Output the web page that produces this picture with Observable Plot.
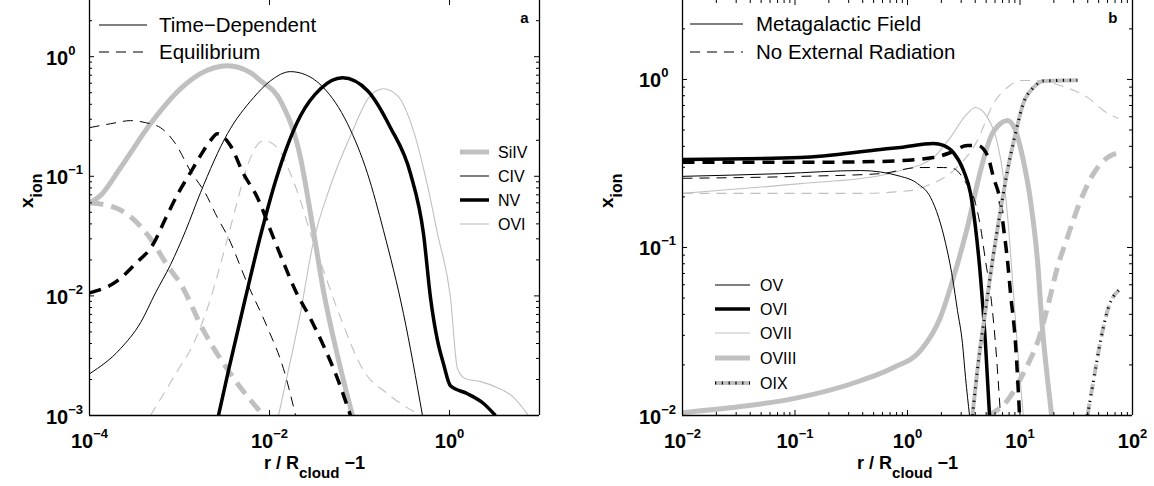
<!DOCTYPE html>
<html>
<head>
<meta charset="utf-8">
<script src="https://cdn.jsdelivr.net/npm/d3@7"></script>
<script src="https://cdn.jsdelivr.net/npm/@observablehq/plot@0.6"></script>
<style>
  body { margin: 0; background: #fff; }
  #row { display: flex; width: 1154px; height: 486px; }
  #row svg { flex: none; }
  text { white-space: pre; }
</style>
</head>
<body>
<div id="row"></div>
<script>
// ---------- Panel a: time-dependent vs. equilibrium ionisation fractions ----------
const siivTdR = [1e-4, 1.32e-4, 2.21e-4, 4.76e-4, 1.03e-3, 1.71e-3, 3.41e-3, 6.15e-3, 7.94e-3, 1.32e-2, 2.21e-2, 3.01e-2, 3.98e-2, 5.70e-2, 8.36e-2];
const siivTdX = [0.060, 0.0689, 0.118, 0.275, 0.540, 0.721, 0.841, 0.735, 0.630, 0.429, 0.143, 0.0386, 0.0110, 0.00316, 0.001];
const siivEqR = [1e-4, 1.80e-4, 2.86e-4, 4.76e-4, 7.36e-4, 1.03e-3, 1.85e-3, 3.69e-3, 8.57e-3];
const siivEqX = [0.060, 0.0557, 0.0459, 0.0301, 0.0179, 0.0126, 0.00512, 0.00223, 0.001];

const civTdR = [1e-4, 2.21e-4, 3.69e-4, 5.41e-4, 7.94e-4, 1.17e-3, 1.71e-3, 3.41e-3, 6.64e-3, 1.03e-2, 1.71e-2, 2.51e-2, 3.98e-2, 7.36e-2, 0.123, 0.185, 0.308, 0.501];
const civTdX = [2.23e-3, 3.62e-3, 5.97e-3, 1.06e-2, 1.82e-2, 3.51e-2, 7.29e-2, 0.227, 0.454, 0.630, 0.750, 0.707, 0.551, 0.275, 0.105, 0.0351, 0.0071, 0.001];
const civEqR = [1e-4, 1.71e-4, 2.86e-4, 4.19e-4, 6.15e-4, 9.04e-4, 1.32e-3, 1.95e-3, 2.64e-3, 3.41e-3, 5.70e-3, 9.51e-3, 1.43e-2, 1.95e-2];
const civEqX = [0.255, 0.275, 0.292, 0.281, 0.255, 0.187, 0.111, 0.0716, 0.0451, 0.0318, 0.0126, 0.00542, 0.00246, 0.001];

const nvTdR = [2.71e-3, 3.50e-3, 5.41e-3, 7.94e-3, 1.17e-2, 1.58e-2, 2.21e-2, 3.69e-2, 6.47e-2, 0.123, 0.221, 0.369, 0.514, 0.615, 0.736, 0.857, 1.026, 1.585, 2.39, 3.24];
const nvTdX = [0.001, 2.37e-3, 9.66e-3, 3.18e-2, 9.18e-2, 0.180, 0.321, 0.540, 0.667, 0.520, 0.255, 0.105, 0.0331, 0.00966, 0.00422, 0.00271, 0.00177, 0.00152, 0.00126, 0.001];
const nvEqR = [1e-4, 2.05e-4, 3.24e-4, 5.14e-4, 6.98e-4, 9.75e-4, 1.32e-3, 1.71e-3, 2.21e-3, 2.64e-3, 3.69e-3, 5.14e-3, 7.36e-3, 1.03e-2, 1.43e-2, 1.95e-2, 2.86e-2, 3.98e-2, 5.70e-2, 7.94e-2];
const nvEqX = [0.0106, 0.0134, 0.0186, 0.0273, 0.0442, 0.0729, 0.107, 0.149, 0.199, 0.227, 0.180, 0.105, 0.0662, 0.0351, 0.0190, 0.0110, 0.00644, 0.00384, 0.00203, 0.001];

const oviTdR = [1.26e-2, 1.71e-2, 2.21e-2, 3.01e-2, 4.76e-2, 7.94e-2, 0.132, 0.185, 0.264, 0.398, 0.570, 0.736, 1.026, 1.227, 1.51, 2.21, 3.41, 5.14, 7.55];
const oviTdX = [0.001, 2.87e-3, 7.24e-3, 2.63e-2, 8.34e-2, 0.218, 0.472, 0.540, 0.472, 0.240, 0.0834, 0.0331, 0.00966, 0.00246, 0.00203, 0.00192, 0.00171, 0.00142, 0.001];
const oviEqR = [4.76e-4, 9.51e-4, 1.43e-3, 2.05e-3, 3.41e-3, 4.41e-3, 5.70e-3, 8.57e-3, 1.23e-2, 1.71e-2, 2.21e-2, 2.86e-2, 3.98e-2, 6.15e-2, 0.111, 0.205, 0.476];
const oviEqX = [0.001, 2.37e-3, 3.98e-3, 7.96e-3, 3.01e-2, 6.25e-2, 0.123, 0.199, 0.173, 0.105, 0.0625, 0.0331, 0.0163, 0.00658, 0.00237, 0.00152, 0.001];

// ---------- Panel b: oxygen ions with and without the metagalactic field ----------
const ovMgR = [0.01, 0.0743, 0.382, 0.867, 1.227, 1.60, 1.89, 2.18, 2.51, 2.78, 3.08, 3.28, 3.56];
const ovMgX = [0.265, 0.275, 0.287, 0.265, 0.240, 0.199, 0.151, 0.106, 0.0662, 0.0422, 0.0269, 0.0168, 0.01];
const ovNoR = [0.01, 0.112, 0.575, 1.25, 2.09, 2.56, 3.28, 4.02, 4.46, 4.93, 5.47, 6.05, 6.71];
const ovNoX = [0.258, 0.265, 0.275, 0.299, 0.299, 0.295, 0.244, 0.183, 0.132, 0.0837, 0.0532, 0.0269, 0.01];

const oviMgR = [0.01, 0.112, 0.575, 0.867, 1.70, 2.09, 2.56, 3.15, 3.63, 4.02, 4.46, 4.93, 5.36];
const oviMgX = [0.334, 0.343, 0.383, 0.394, 0.416, 0.405, 0.367, 0.287, 0.210, 0.132, 0.0662, 0.0269, 0.01];
const oviNoR = [0.01, 0.112, 0.575, 1.70, 2.41, 3.41, 4.19, 5.14, 5.81, 6.71, 7.13, 7.74, 8.24, 9.12, 9.91];
const oviNoX = [0.321, 0.321, 0.325, 0.343, 0.367, 0.405, 0.405, 0.353, 0.261, 0.183, 0.132, 0.0837, 0.0532, 0.0269, 0.01];

const oviiMgR = [0.01, 0.112, 0.575, 0.867, 1.70, 2.41, 3.41, 4.02, 5.14, 6.31, 7.13, 7.91, 8.75, 9.70, 10.7];
const oviiMgX = [0.210, 0.240, 0.268, 0.287, 0.343, 0.452, 0.628, 0.681, 0.594, 0.416, 0.261, 0.132, 0.0532, 0.0212, 0.01];
const oviiNoR = [0.01, 0.382, 1.06, 1.51, 2.56, 4.19, 5.81, 7.74, 10.1, 13.2, 22.9, 39.8, 60.0, 75.2];
const oviiNoX = [0.210, 0.210, 0.218, 0.234, 0.287, 0.434, 0.720, 0.896, 0.986, 0.986, 0.921, 0.782, 0.628, 0.586];

const oviiiMgR = [0.01, 0.0328, 0.097, 0.382, 0.752, 1.31, 1.96, 2.56, 3.41, 4.46, 5.47, 6.71, 7.74, 9.12, 10.7, 12.4, 14.3, 15.8, 17.5, 19.1];
const oviiiMgX = [0.0104, 0.0113, 0.0126, 0.0161, 0.0193, 0.0244, 0.0383, 0.0662, 0.132, 0.287, 0.452, 0.547, 0.570, 0.497, 0.330, 0.190, 0.0837, 0.0334, 0.0168, 0.01];
const oviiiNoR = [5.14, 7.74, 10.7, 15.2, 17.9, 21.5, 26.4, 34.5, 45.0, 60.0, 75.2];
const oviiiNoX = [0.01, 0.0123, 0.0178, 0.0308, 0.0464, 0.0760, 0.115, 0.190, 0.275, 0.343, 0.367];

const oixMgR = [3.78, 4.28, 4.93, 5.70, 6.71, 7.74, 9.12, 10.7, 13.2, 16.2, 32.4];
const oixMgX = [0.01, 0.0212, 0.0422, 0.0837, 0.166, 0.287, 0.477, 0.720, 0.896, 0.98, 0.99];
const oixNoR = [39.8, 45.0, 52.0, 61.2, 75.2];
const oixNoX = [0.01, 0.0161, 0.0279, 0.0440, 0.0555];

// ---------- Tick values and labels ----------
const xMajorA = [1e-4, 1e-2, 1];
const xLabelsA = ["10^{−4}", "10^{−2}", "10^{0}"];
const yMajorA = [1e-3, 1e-2, 1e-1, 1];
const yLabelsA = ["10^{−3}", "10^{−2}", "10^{−1}", "10^{0}"];
const xMajorB = [1e-2, 1e-1, 1, 10, 100];
const xLabelsB = ["10^{−2}", "10^{−1}", "10^{0}", "10^{1}", "10^{2}"];
const yMajorB = [1e-2, 1e-1, 1];
const yLabelsB = ["10^{−2}", "10^{−1}", "10^{0}"];

const xTitle = "r / R_{cloud} −1";
const yTitle = "x_{ion}";

// ---------- Styling ----------
const GREY = "#c0c0c0";
const FONT = "'Liberation Sans', Arial, Helvetica, sans-serif";
const FRAME_W = 450, FRAME_H = 415;
const dashFor = w => (w >= 4.5 ? "14,8" : w >= 3 ? "12,8" : "10,7");

const ionsA = [
  {name: "SiIV", stroke: GREY, width: 5, td: [siivTdR, siivTdX], eq: [siivEqR, siivEqX]},
  {name: "CIV", stroke: "#000", width: 1, td: [civTdR, civTdX], eq: [civEqR, civEqX]},
  {name: "NV", stroke: "#000", width: 3.5, td: [nvTdR, nvTdX], eq: [nvEqR, nvEqX]},
  {name: "OVI", stroke: GREY, width: 1.1, td: [oviTdR, oviTdX], eq: [oviEqR, oviEqX]}
];
const ionsB = [
  {name: "OV", stroke: "#000", width: 1, mg: [ovMgR, ovMgX], no: [ovNoR, ovNoX]},
  {name: "OVI", stroke: "#000", width: 3.5, mg: [oviMgR, oviMgX], no: [oviNoR, oviNoX]},
  {name: "OVII", stroke: GREY, width: 1.1, mg: [oviiMgR, oviiMgX], no: [oviiNoR, oviiNoX]},
  {name: "OVIII", stroke: GREY, width: 5, mg: [oviiiMgR, oviiiMgX], no: [oviiiNoR, oviiiNoX]},
  {name: "OIX", stroke: GREY, width: 4, ticked: true, mg: [oixMgR, oixMgX], no: [oixNoR, oixNoX]}
];
const drawOrderA = ["SiIV", "OVI", "CIV", "NV"];
const drawOrderB = ["OVIII", "OVII", "OV", "OVI", "OIX"];

function rows([r, v]) { return r.map((d, i) => ({r: d, v: v[i]})); }

function curve(pair, ion, dashed) {
  const base = {x: "r", y: "v", curve: "monotone-x", clip: true, strokeLinejoin: "round", strokeLinecap: "butt"};
  const data = rows(pair);
  const marks = [Plot.line(data, {...base, stroke: ion.stroke, strokeWidth: ion.width,
    strokeDasharray: dashed ? dashFor(ion.width) : null})];
  if (ion.ticked) marks.push(Plot.line(data, {...base, stroke: "#000", strokeWidth: 3, strokeDasharray: "1.2,5.6"}));
  return marks;
}

function minorTicks([lo, hi]) {
  const t = [];
  for (let e = Math.floor(Math.log10(lo)); e < Math.ceil(Math.log10(hi)); ++e)
    for (let m = 2; m <= 9; ++m) { const v = m * 10 ** e; if (v > lo && v < hi) t.push(v); }
  return t;
}

function boxAxes(o) {
  const H = FRAME_H, W = FRAME_W, tk = {stroke: "#000", strokeWidth: 1};
  const xMinor = o.xMinor ? minorTicks(o.xDomain) : [];
  const yMinor = minorTicks(o.yDomain);
  const bold = {fontWeight: "bold", fill: "#000"};
  return [
    Plot.tickX(o.xMajor, {x: d => d, insetTop: H - 5, ...tk}),
    Plot.tickX(o.xMajor, {x: d => d, insetBottom: H - 5, ...tk}),
    Plot.tickX(xMinor, {x: d => d, insetTop: H - 3, ...tk}),
    Plot.tickX(xMinor, {x: d => d, insetBottom: H - 3, ...tk}),
    Plot.tickY(o.yMajor, {y: d => d, insetRight: W - 5, ...tk}),
    Plot.tickY(o.yMajor, {y: d => d, insetLeft: W - 5, ...tk}),
    Plot.tickY(yMinor, {y: d => d, insetRight: W - 3, ...tk}),
    Plot.tickY(yMinor, {y: d => d, insetLeft: W - 3, ...tk}),
    Plot.ruleX(o.xDomain, {x: d => d, stroke: "#000", strokeWidth: 1.3}),
    Plot.ruleY([o.yDomain[0]], {y: d => d, stroke: "#000", strokeWidth: 1.3}),
    Plot.text(o.xMajor, {x: d => d, text: (d, i) => o.xLabels[i], frameAnchor: "bottom", dy: 32,
      lineAnchor: "bottom", fontSize: 20, ...bold}),
    Plot.text(o.yMajor, {y: d => d, text: (d, i) => o.yLabels[i], frameAnchor: "left", dx: -43.5, dy: 8,
      textAnchor: "start", lineAnchor: "bottom", fontSize: 20, ...bold}),
    Plot.text([xTitle], {frameAnchor: "bottom", dy: 53, lineAnchor: "bottom", fontSize: 18, ...bold}),
    Plot.text([yTitle], {frameAnchor: "left", dx: o.yTitleDx, rotate: -90, lineAnchor: "bottom", fontSize: 19, ...bold}),
    Plot.text([o.letter], {frameAnchor: "top-right", dx: o.letterDx, dy: 22, textAnchor: "end",
      lineAnchor: "bottom", fontSize: 15, ...bold})
  ];
}

const domA = {x: [1e-4, 10], y: [1e-3, 2.95]};
const domB = {x: [1e-2, 100], y: [1e-2, 2.95]};

const chartA = Plot.plot({
  width: 577, height: 486, marginLeft: 89, marginRight: 38, marginTop: 0, marginBottom: 71,
  x: {type: "log", domain: domA.x, axis: null},
  y: {type: "log", domain: domA.y, axis: null},
  style: {fontFamily: FONT, background: "#fff", overflow: "visible"},
  marks: [
    ...drawOrderA.flatMap(n => { const ion = ionsA.find(d => d.name === n); return [...curve(ion.eq, ion, true), ...curve(ion.td, ion, false)]; }),
    ...boxAxes({xDomain: domA.x, yDomain: domA.y, xMajor: xMajorA, xLabels: xLabelsA, yMajor: yMajorA, yLabels: yLabelsA,
      xMinor: false, yTitleDx: -57, letter: "a", letterDx: -11})
  ]
});

const chartB = Plot.plot({
  width: 577, height: 486, marginLeft: 105, marginRight: 22, marginTop: 0, marginBottom: 71,
  x: {type: "log", domain: domB.x, axis: null},
  y: {type: "log", domain: domB.y, axis: null},
  style: {fontFamily: FONT, background: "#fff", overflow: "visible"},
  marks: [
    ...drawOrderB.flatMap(n => { const ion = ionsB.find(d => d.name === n); return [...curve(ion.no, ion, true), ...curve(ion.mg, ion, false)]; }),
    ...boxAxes({xDomain: domB.x, yDomain: domB.y, xMajor: xMajorB, xLabels: xLabelsB, yMajor: yMajorB, yLabels: yLabelsB,
      xMinor: true, yTitleDx: -70, letter: "b", letterDx: -15})
  ]
});

const row = document.getElementById("row");
row.append(chartA, chartB);

// Turn "^{...}" and "_{...}" into raised / lowered tspans.
function richText(svg) {
  d3.select(svg).selectAll("text").each(function () {
    const src = this.textContent;
    if (!/[_^]\{/.test(src)) return;
    const base = parseFloat(getComputedStyle(this).fontSize);
    const sel = d3.select(this).text(null);
    let shift = 0;
    for (const m of src.matchAll(/([_^])\{([^}]*)\}|([^_^]+)/g)) {
      const t = sel.append("tspan");
      if (m[3] !== undefined) {
        t.text(m[3]);
        if (shift) { t.attr("dy", -shift); shift = 0; }
      } else {
        const sup = m[1] === "^";
        const s = (sup ? -0.5 : 0.5) * base;
        t.text(m[2]).attr("font-size", (sup ? 0.65 : 0.84) * base).attr("dy", s - shift);
        shift = s;
      }
    }
  });
}

// In-frame keys drawn as plain SVG on top of each chart.
function key(svg, {x0, x1, tx, fontSize, items}) {
  const g = d3.select(svg).append("g")
    .attr("font-family", FONT).attr("font-size", fontSize).attr("text-anchor", "start");
  for (const it of items) {
    const line = (stroke, width, dash) => g.append("line")
      .attr("x1", x0).attr("x2", x1).attr("y1", it.y).attr("y2", it.y)
      .attr("stroke", stroke).attr("stroke-width", width).attr("stroke-dasharray", dash || null);
    line(it.stroke, it.width, it.dash);
    if (it.ticked) line("#000", 3, "1.2,5.6");
    g.append("text").attr("x", tx).attr("y", it.y + 0.358 * fontSize)
      .attr("text-anchor", "start").attr("fill", "#000").text(it.label);
  }
}

richText(chartA);
richText(chartB);

key(chartA, {x0: 99, x1: 147, tx: 159, fontSize: 20.5, items: [
  {label: "Time−Dependent", y: 25, stroke: "#000", width: 1},
  {label: "Equilibrium", y: 52, stroke: "#000", width: 1, dash: dashFor(1)}
]});
key(chartA, {x0: 460, x1: 489, tx: 498, fontSize: 16,
  items: ionsA.map((d, i) => ({label: d.name, y: 152 + 24 * i, stroke: d.stroke, width: d.width}))});

key(chartB, {x0: 113, x1: 166, tx: 179, fontSize: 20.5, items: [
  {label: "Metagalactic Field", y: 24, stroke: "#000", width: 1},
  {label: "No External Radiation", y: 52, stroke: "#000", width: 1, dash: dashFor(1)}
]});
key(chartB, {x0: 138, x1: 173, tx: 183, fontSize: 16,
  items: ionsB.map((d, i) => ({label: d.name, y: [285, 309, 333, 358, 383][i], stroke: d.stroke, width: d.width, ticked: d.ticked}))});
</script>
</body>
</html>
